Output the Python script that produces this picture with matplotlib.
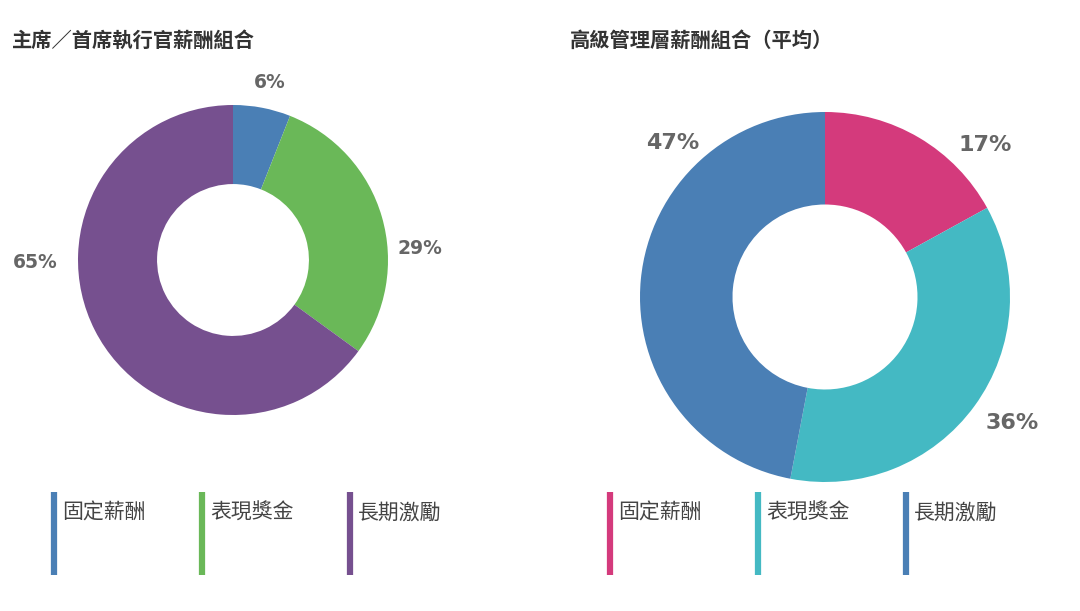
import matplotlib.pyplot as plt

plt.rcParams['font.family'] = ['Noto Sans CJK TC', 'DejaVu Sans']

# 數據
categories = ['固定薪酬', '表現獎金', '長期激勵']

ceo_title = '主席／首席執行官薪酬組合'
ceo_values = [6, 29, 65]
ceo_colors = ['#4a7fb5', '#6ab858', '#76508f']

mgmt_title = '高級管理層薪酬組合（平均）'
mgmt_values = [17, 36, 47]
mgmt_colors = ['#d43a7c', '#44b9c3', '#4a7fb5']

W, H = 1080, 611
fig = plt.figure(figsize=(W / 100, H / 100), dpi=100)
ax = fig.add_axes([0, 0, 1, 1])
ax.set_xlim(0, W)
ax.set_ylim(H, 0)
ax.set_aspect('equal')
ax.axis('off')


def draw_donut(values, colors, center, radius, hole, label_pos, size):
    # y 軸倒置, 所以用 counterclock=True 才會順時針
    wedges, _ = ax.pie(values, colors=colors, center=center, radius=radius,
                       startangle=-90, counterclock=True,
                       wedgeprops=dict(width=radius * (1 - hole), linewidth=0))
    for v, (x, y) in zip(values, label_pos):
        ax.text(x, y, f'{v}%', ha='center', va='center', fontsize=size,
                fontweight='bold', color='#666666', family='DejaVu Sans')


def draw_legend(x0, colors, step=148):
    for i, (name, c) in enumerate(zip(categories, colors)):
        x = x0 + i * step
        ax.plot([x, x], [492, 575], color=c, linewidth=4.5,
                solid_capstyle='butt')
        ax.text(x + 8, 513, name, ha='left', va='center', fontsize=15,
                color='#444444')


draw_donut(ceo_values, ceo_colors, (233, 260), 155, 0.49,
           [(270, 83), (420, 249), (35, 262)], 13.5)
draw_donut(mgmt_values, mgmt_colors, (825, 297), 185, 0.5,
           [(985, 145), (1012, 423), (673, 143)], 16)

ax.set_xlim(0, W)
ax.set_ylim(H, 0)

ax.text(12, 40, ceo_title, ha='left', va='center', fontsize=14.6,
        fontweight='bold', color='#333333')
ax.text(570, 40, mgmt_title, ha='left', va='center', fontsize=14.6,
        fontweight='bold', color='#333333')

draw_legend(54, ceo_colors)
draw_legend(610, mgmt_colors)

fig.savefig('out.png', dpi=100, facecolor='white')
